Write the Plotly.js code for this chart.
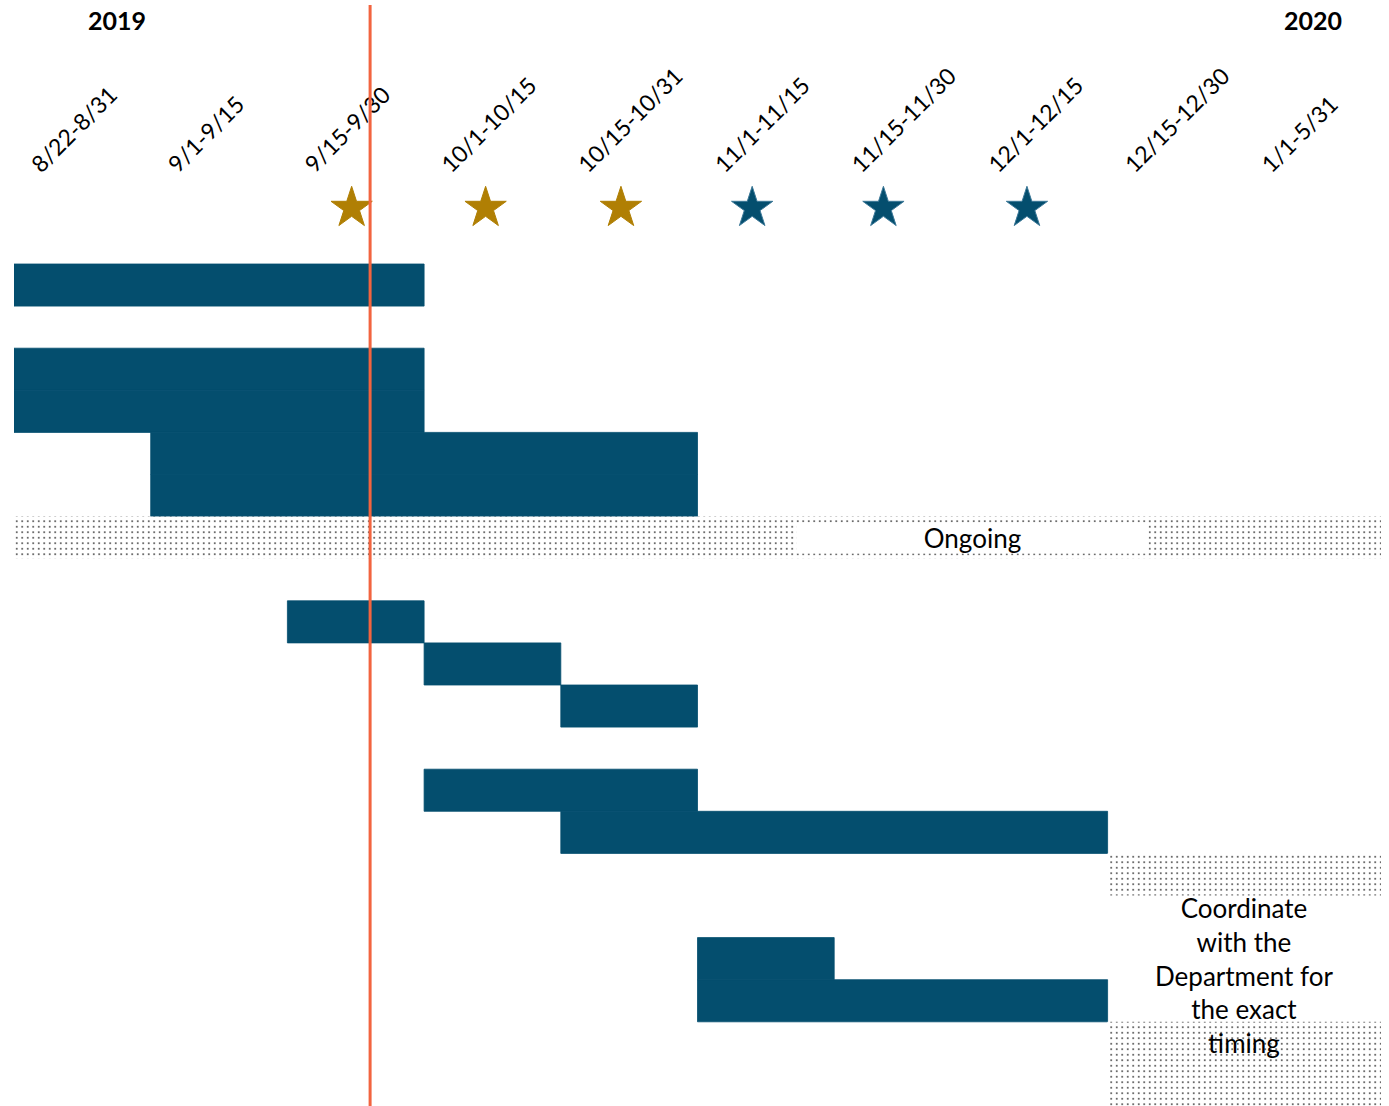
<!DOCTYPE html>
<html>
<head>
<meta charset="utf-8">
<script src="https://cdn.plot.ly/plotly-3.0.1.min.js"></script>
<style>
  html, body { margin: 0; padding: 0; background: #ffffff; }
  #chart { width: 1389px; height: 1106px; }
</style>
</head>
<body>
<div id="chart"></div>
<script>
// Time periods (columns)
const periods = ["8/22-8/31", "9/1-9/15", "9/15-9/30", "10/1-10/15", "10/15-10/31",
                 "11/1-11/15", "11/15-11/30", "12/1-12/15", "12/15-12/30", "1/1-5/31"];
const years = ["2019", "2020"];

// Solid task bars: row index, start period, end period (exclusive)
const taskRow   = [0, 2, 3, 4, 5, 8, 9, 10, 12, 13, 16, 17];
const taskStart = [0, 0, 0, 1, 1, 2, 3, 4, 3, 4, 5, 5];
const taskEnd   = [3, 3, 3, 5, 5, 3, 4, 5, 5, 8, 6, 8];

// Dotted (ongoing / to be coordinated) bars
const dotRow   = [6, 14, 18, 19];
const dotStart = [0, 8, 8, 8];
const dotEnd   = [10, 10, 10, 10];

// Milestone stars (position in period units)
const starX = [2.47, 3.45, 4.44, 5.40, 6.36, 7.41];
const starKind = ["gold", "gold", "gold", "blue", "blue", "blue"];

// Today line (period units)
const todayX = 2.605;

const notes = ["Ongoing", "Coordinate<br>with the<br>Department for<br>the exact<br>timing"];

const BLUE = "#044E6E";
const GOLD = "#B07F04";
const FONT = "Lato, 'Open Sans', sans-serif";

const nRows = 20;
const rowPx = 42.1;
const plotTop = 183, plotBottom = 1106;
const yTop = -(264 - plotTop) / rowPx;
const paperH = plotBottom - plotTop;

const traces = [
  {
    type: "bar", orientation: "h",
    y: taskRow.map(r => r + 0.5),
    base: taskStart,
    x: taskEnd.map((e, i) => e - taskStart[i]),
    width: taskRow.map(() => 1),
    marker: { color: BLUE, line: { width: 0.8, color: BLUE } },
    hoverinfo: "skip", showlegend: false
  },
  {
    type: "bar", orientation: "h",
    y: dotRow.map(r => r + 0.5),
    base: dotStart,
    x: dotEnd.map((e, i) => e - dotStart[i]),
    width: dotRow.map(() => 1),
    marker: {
      color: "white", line: { width: 0 },
      pattern: { shape: ".", fgcolor: "#333333", bgcolor: "white", size: 5.5, solidity: 0.08 }
    },
    hoverinfo: "skip", showlegend: false
  },
  {
    type: "scatter", mode: "markers",
    x: starX,
    y: starX.map(() => -1.33),
    marker: {
      symbol: "star", size: 31,
      color: starKind.map(k => k === "gold" ? GOLD : BLUE),
      line: { width: 1, color: starKind.map(k => k === "gold" ? GOLD : "#3C7898") }
    },
    hoverinfo: "skip", showlegend: false, cliponaxis: false
  }
];

const layout = {
  width: 1389, height: 1106,
  margin: { l: 14, r: 8, t: plotTop, b: 1106 - plotBottom, pad: 0 },
  paper_bgcolor: "white", plot_bgcolor: "white",
  barmode: "overlay",
  font: { family: FONT, color: "#000000" },
  xaxis: {
    range: [0, 10], side: "top", showgrid: false, zeroline: false, showline: false,
    tickmode: "array",
    tickvals: periods.map((p, i) => i + 0.14),
    ticktext: periods,
    tickangle: -45, ticks: "",
    tickfont: { family: FONT, size: 23, color: "#000000" },
    fixedrange: true
  },
  yaxis: {
    range: [nRows, yTop], showgrid: false, zeroline: false, showline: false,
    showticklabels: false, ticks: "", fixedrange: true
  },
  shapes: [
    {
      type: "line", xref: "x", yref: "paper",
      x0: todayX, x1: todayX, y0: 0, y1: (plotBottom - 5) / paperH,
      line: { color: "#F2643F", width: 3 }
    }
  ],
  annotations: [
    {
      xref: "x", yref: "paper", x: 0.753, y: (plotBottom - 20) / paperH,
      text: "<b>" + years[0] + "</b>", showarrow: false,
      font: { family: FONT, size: 25, color: "#000" }, xanchor: "center", yanchor: "middle"
    },
    {
      xref: "x", yref: "paper", x: 9.50, y: (plotBottom - 20) / paperH,
      text: "<b>" + years[1] + "</b>", showarrow: false,
      font: { family: FONT, size: 25, color: "#000" }, xanchor: "center", yanchor: "middle"
    },
    {
      xref: "x", yref: "y", x: 7.01, y: 6.5,
      text: notes[0], showarrow: false, bgcolor: "white",
      width: 351, height: 30, borderpad: 0, valign: "middle",
      font: { family: FONT, size: 26, color: "#000" }, xanchor: "center", yanchor: "middle"
    },
    {
      xref: "x", yref: "y", x: 9.0, y: 16.9,
      text: notes[1], showarrow: false, align: "center",
      font: { family: FONT, size: 26, color: "#000" }, xanchor: "center", yanchor: "middle"
    }
  ]
};

Plotly.newPlot("chart", traces, layout, { displayModeBar: false, staticPlot: true });
</script>
</body>
</html>
